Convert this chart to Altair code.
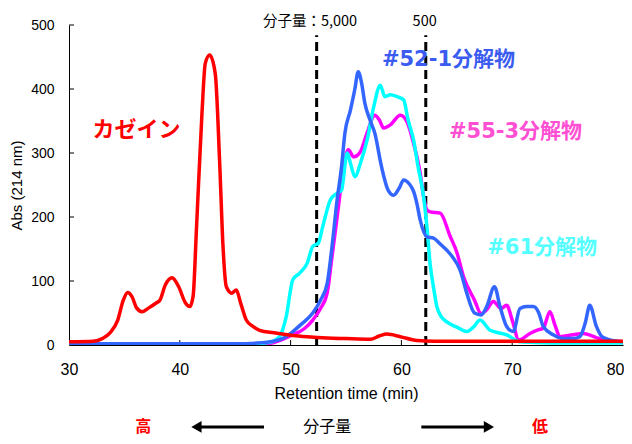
import altair as alt
import pandas as pd

# ---- data ----
casein_x = [30, 32.2, 33.0, 33.7, 34.4, 34.9, 35.3, 35.7, 36.1, 36.6, 37.2, 37.9, 38.2, 38.7, 39.3, 39.9,
            40.5, 40.9, 41.2, 41.5, 42.0, 42.3, 42.7, 43.2, 43.6, 43.9, 44.2, 44.7, 45.1, 45.5, 46.0, 46.6,
            47.2, 48.5, 50.2, 51.5, 53.3, 55.0, 57.2, 58.0, 58.7, 59.9, 61.4, 63.0, 66.0, 70.0, 75.0, 80.0]
casein_y = [5, 6, 10, 19, 39, 70, 82, 75, 58, 52, 58, 66, 70, 94, 105, 91,
            66, 60, 76, 180, 362, 440, 453, 424, 284, 154, 91, 81, 86, 65, 39, 29,
            23, 19, 15, 13, 11, 10, 9, 14, 17, 13, 7, 6, 6, 6, 6, 6]

s52_x = [30, 45, 47, 48.5, 49.5, 50.2, 51.0, 52.0, 52.7, 53.3, 53.7, 54.2, 54.6, 54.9, 55.4, 55.8,
         56.1, 56.4, 56.7, 57.2, 57.6, 58.2, 58.8, 59.3, 59.8, 60.2, 60.7, 61.1, 61.4, 61.7, 62.3, 62.9,
         63.5, 64.1, 64.6, 65.3, 65.9, 66.6, 67.2, 67.7, 68.4, 68.9, 69.5, 70.1, 70.7, 71.3, 71.9, 72.4,
         72.8, 73.7, 74.6, 75.5, 76.1, 76.6, 77.0, 77.6, 78.1, 78.8, 80]
s52_y = [2, 2, 3, 6, 12, 21, 33, 50, 70, 96, 148, 227, 279, 331, 367, 400,
         427, 410, 378, 350, 331, 279, 242, 234, 245, 258, 252, 240, 221, 195, 169, 167,
         158, 148, 138, 117, 81, 50, 47, 60, 91, 60, 29, 21, 57, 60, 60, 50,
         29, 16, 10, 10, 13, 35, 62, 29, 13, 8, 5]

s55_x = [30, 45, 47, 48.5, 50.2, 51.2, 52.0, 52.7, 53.3, 53.7, 54.2, 54.8, 55.2, 55.7, 56.3, 56.9,
         57.6, 58.0, 58.4, 59.0, 59.9, 60.5, 61.1, 61.7, 62.0, 62.3, 62.6, 63.5, 64.4, 65.0, 65.6, 66.6,
         67.2, 67.7, 68.3, 69.0, 69.5, 70.0, 70.6, 71.6, 72.4, 72.8, 73.4, 73.9, 74.3, 75.5, 76.4, 77.9, 80]
s55_y = [0, 0, 1, 4, 16, 25, 39, 57, 81, 133, 200, 279, 305, 294, 302, 331,
         359, 352, 339, 344, 359, 349, 315, 268, 232, 211, 208, 206, 170, 145, 107, 70,
         49, 55, 68, 57, 62, 39, 8, 18, 24, 26, 52, 29, 13, 16, 18, 10, 5]

s61_x = [30, 45, 47, 48.3, 49.0, 49.6, 50.2, 50.8, 51.5, 52.0, 52.5, 52.9, 53.6, 54.2, 54.6, 55.1,
         55.4, 55.8, 56.3, 56.9, 57.5, 58.1, 58.5, 59.0, 59.6, 60.2, 60.6, 61.1, 61.5, 62.0, 62.3, 62.6,
         62.9, 63.2, 63.5, 64.1, 65.0, 65.9, 66.5, 67.1, 68.0, 69.5, 70.7, 72.0, 75.0, 80.0]
s61_y = [1, 1, 2, 5, 13, 44, 102, 112, 128, 154, 159, 185, 227, 237, 242, 300,
         284, 263, 284, 320, 372, 406, 388, 391, 388, 383, 352, 320, 279, 232, 185, 125,
         90, 60, 47, 36, 28, 21, 28, 39, 23, 16, 5, 4, 3, 3]

series_names = ["カゼイン", "#52-1分解物", "#55-3分解物", "#61分解物"]
series_xs = [casein_x, s52_x, s55_x, s61_x]
series_ys = [casein_y, s52_y, s55_y, s61_y]
line_colors = ["#FF0000", "#3366FF", "#FF00FF", "#00FFFF"]
label_colors = ["#FF0000", "#3A5CF0", "#FF4FD2", "#55FFFF"]
label_x = [36.1, 64.25, 70.3, 72.7]
label_y = [336, 445, 333, 151]
label_size = [22, 21, 21, 21]

cutoff_x = [52.35, 62.2]
cutoff_text = ["分子量：5,000", "500"]
cutoff_text_x = [51.75, 62.1]

x_ticks = [30, 40, 50, 60, 70, 80]
y_ticks = [0, 100, 200, 300, 400, 500]

bottom_text = ["高", "分子量", "低"]
bottom_text_x = [36.7, 53.3, 72.5]
bottom_text_color = ["#FF0000", "#000000", "#FF0000"]
arrow_shaft = [(41.5, 47.6), (61.8, 67.9)]
arrow_head_x = [41.5, 67.9]
arrow_head_shape = ["triangle-left", "triangle-right"]

JP = "Noto Sans CJK JP"
LAT = "Liberation Sans"
LBL = "DejaVu Sans, Noto Sans CJK JP"

xs = alt.Scale(domain=[30, 80], nice=False, zero=False)
ys = alt.Scale(domain=[0, 500], nice=False)

xax = alt.Axis(values=x_ticks, tickSize=0, labelFontSize=16, labelFont=LAT, labelPadding=16,
               labelFlush=False, labelBound=False, labelOverlap=False,
               labelAlign=alt.ExprRef(expr="datum.value >= 80 ? 'right' : 'center'"),
               labelOffset=alt.ExprRef(expr="datum.value >= 80 ? 1 : 0"),
               title="Retention time (min)", titleFont=LAT, titleFontSize=16, titleFontWeight="normal",
               titlePadding=8, domainColor="black", grid=False, labelColor="black", titleColor="black")
yax = alt.Axis(values=y_ticks, tickSize=0, labelFontSize=14, labelFont=LAT, labelPadding=15,
               labelFlush=False, labelBound=False, labelOverlap=False,
               title="Abs (214 nm)", titleFont=LAT, titleFontSize=15, titleFontWeight="normal",
               titlePadding=6, domainColor="black", grid=False, labelColor="black", titleColor="black")

layers = []
# inward ticks
xt = pd.DataFrame({"x": x_ticks[1:-1]})
layers.append(alt.Chart(xt).mark_rule(color="black", strokeWidth=1).encode(
    x=alt.X("x:Q", scale=xs, axis=xax), y=alt.value(320), y2=alt.value(315)))
yt = pd.DataFrame({"y": y_ticks[1:]})
layers.append(alt.Chart(yt).mark_rule(color="black", strokeWidth=1).encode(
    y=alt.Y("y:Q", scale=ys, axis=yax), x=alt.value(0), x2=alt.value(5)))

# cutoff dashed lines
cd = pd.DataFrame({"x": cutoff_x, "y0": [0, 0], "y1": [484, 484]})
layers.append(alt.Chart(cd).mark_rule(color="black", strokeWidth=3, strokeDash=[9, 5]).encode(
    x=alt.X("x:Q", scale=xs), y=alt.Y("y0:Q", scale=ys), y2="y1:Q"))
ct = pd.DataFrame({"x": cutoff_text_x, "t": cutoff_text, "y": [505, 505]})
layers.append(alt.Chart(ct).mark_text(font=JP, fontSize=14.5, color="black", clip=False).encode(
    x=alt.X("x:Q", scale=xs), y=alt.Y("y:Q", scale=ys), text="t:N"))

# series lines (draw order: magenta, cyan, blue, red)
for i in [2, 3, 1, 0]:
    df = pd.DataFrame({"x": series_xs[i], "y": series_ys[i]})
    layers.append(alt.Chart(df).mark_line(color=line_colors[i], strokeWidth=3.5,
                                          interpolate="monotone", clip=True).encode(
        x=alt.X("x:Q", scale=xs), y=alt.Y("y:Q", scale=ys), order="x:Q"))

# series labels
for i in range(4):
    ld = pd.DataFrame({"x": [label_x[i]], "y": [label_y[i]], "t": [series_names[i]]})
    layers.append(alt.Chart(ld).mark_text(font=(JP if i == 0 else LBL), fontSize=label_size[i],
                                          fontWeight="bold", color=label_colors[i]).encode(
        x=alt.X("x:Q", scale=xs), y=alt.Y("y:Q", scale=ys), text="t:N"))

# bottom molecular weight annotation
for j in range(3):
    bt = pd.DataFrame({"x": [bottom_text_x[j]], "t": [bottom_text[j]], "y": [-128]})
    layers.append(alt.Chart(bt).mark_text(font=JP, fontSize=16, clip=False,
                                          color=bottom_text_color[j],
                                          fontWeight="bold" if bottom_text_color[j] != "#000000" else "normal").encode(
        x=alt.X("x:Q", scale=xs), y=alt.Y("y:Q", scale=ys), text="t:N"))
sh = pd.DataFrame({"x0": [a for a, b in arrow_shaft], "x1": [b for a, b in arrow_shaft], "y": [-128, -128]})
layers.append(alt.Chart(sh).mark_rule(color="black", strokeWidth=3, clip=False).encode(
    x=alt.X("x0:Q", scale=xs), x2="x1:Q", y=alt.Y("y:Q", scale=ys)))
ah = pd.DataFrame({"x": arrow_head_x, "s": arrow_head_shape, "y": [-128, -128]})
layers.append(alt.Chart(ah).mark_point(filled=True, color="black", opacity=1, size=140, clip=False).encode(
    x=alt.X("x:Q", scale=xs), y=alt.Y("y:Q", scale=ys), shape=alt.Shape("s:N", scale=None)))

chart = alt.layer(*layers).properties(
    width=554, height=320,
    autosize=alt.AutoSizeParams(type="none"),
    padding={"left": 61, "top": 17, "right": 1, "bottom": 91},
    background="white",
).configure_view(stroke=None).configure_axis(domainWidth=1)

chart.save("out.html", embed_options={"renderer": "svg", "actions": False})
